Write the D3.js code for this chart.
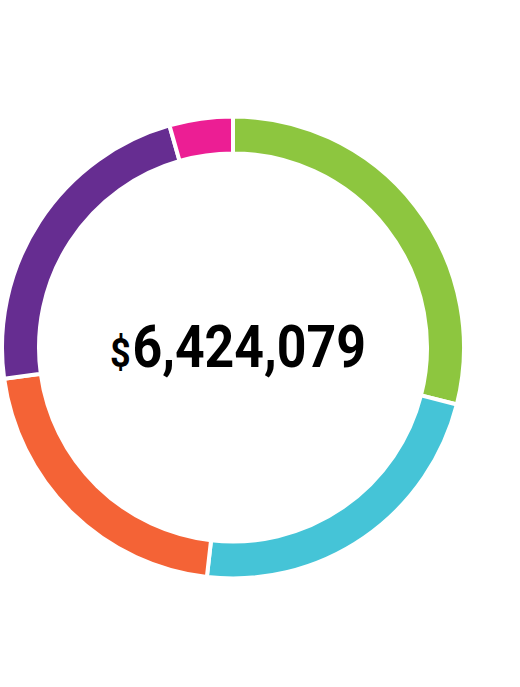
<!DOCTYPE html>
<html><head><meta charset="utf-8">
<script src="https://cdn.jsdelivr.net/npm/d3@7"></script>
<style>html,body{margin:0;padding:0;background:#fff;}</style>
</head><body>
<svg id="chart" width="520" height="687"></svg>
<script>
const categories = ["Green", "Cyan", "Orange", "Purple", "Pink"];
const values = [1861000, 1467000, 1351000, 1460000, 285079];
const colors = ["#8DC63F", "#45C4D7", "#F46336", "#662D91", "#EC1E94"];
const totalLabel = "6,424,079";

const svg = d3.select("#chart");
const cx = 233, cy = 347.5, outerR = 231, innerR = 194;
const g = svg.append("g").attr("transform", `translate(${cx},${cy})`);
const pie = d3.pie().sort(null).value(d => d.v);
const arc = d3.arc().innerRadius(innerR).outerRadius(outerR);
const data = categories.map((c, i) => ({c, v: values[i], col: colors[i]}));
g.selectAll("path").data(pie(data)).join("path")
  .attr("d", arc).attr("fill", d => d.data.col)
  .attr("stroke", "#fff").attr("stroke-width", 4);

const tg = svg.append("g");
const t = tg.append("text").attr("x", 0).attr("y", 0)
  .style("font-family", "Roboto,'DejaVu Sans',sans-serif")
  .style("font-weight", "bold").attr("fill", "#000");
t.append("tspan").attr("font-size", 41).text("$");
t.append("tspan").attr("font-size", 59).attr("dx", 2).text(totalLabel);
const bb = t.node().getBBox();
const targetW = 256, left = 110, baseline = 367;
const sx = targetW / bb.width;
tg.attr("transform", `translate(${left - bb.x * sx},${baseline}) scale(${sx},1)`);
</script>
</body></html>
